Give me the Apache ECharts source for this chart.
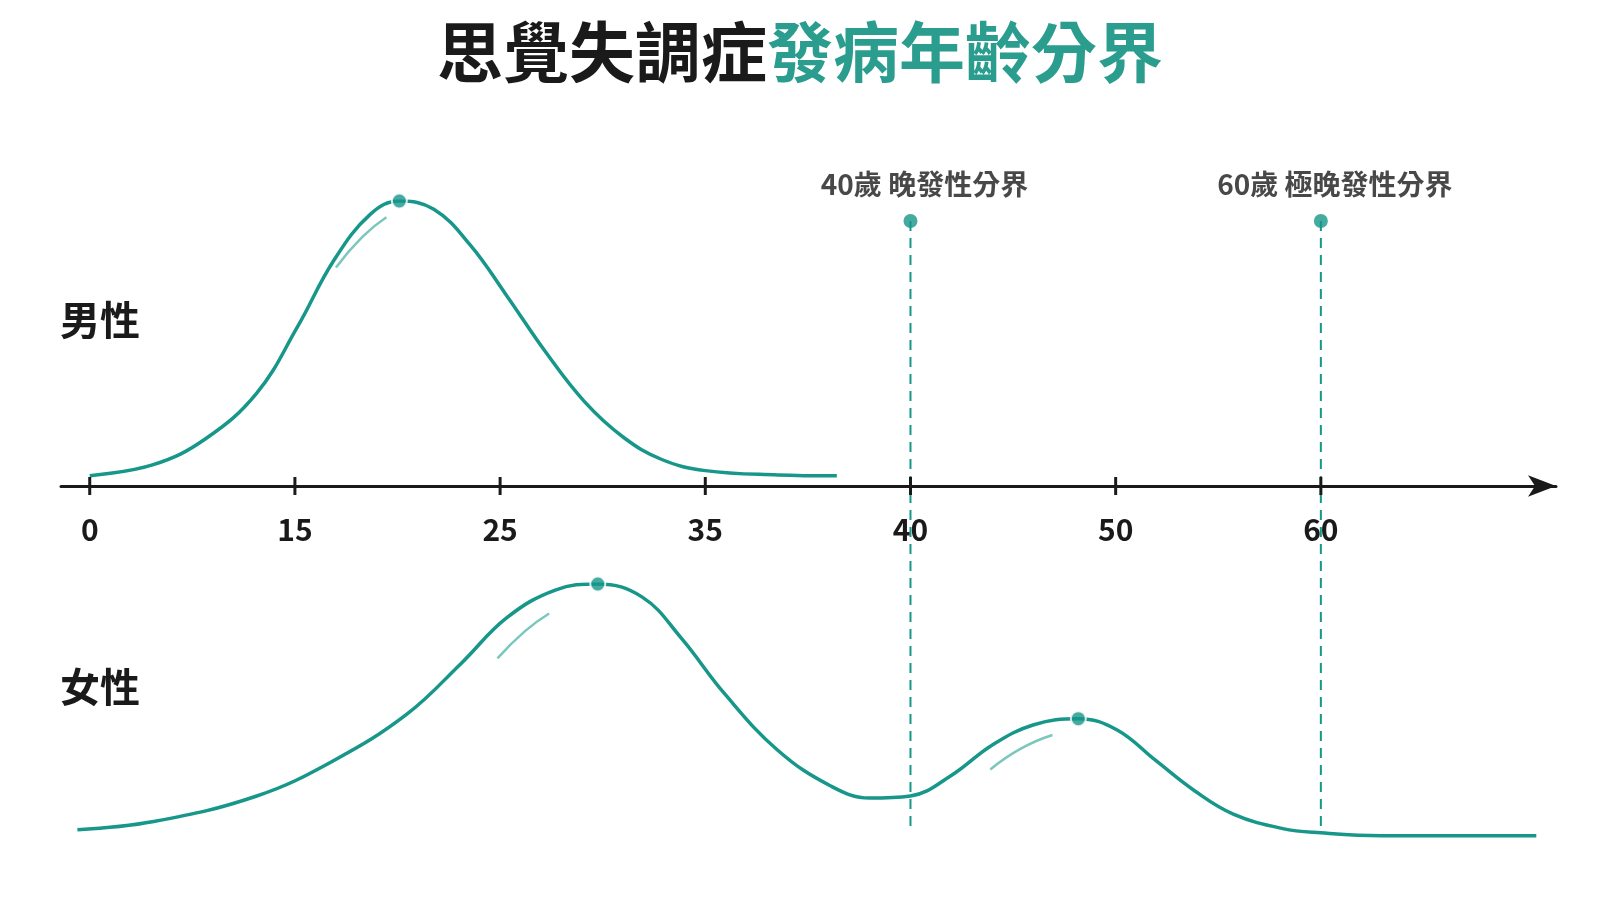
<!DOCTYPE html>
<html><head><meta charset="utf-8">
<script src="https://cdn.jsdelivr.net/npm/echarts@6/dist/echarts.min.js"></script>
<style>html,body{margin:0;background:#fff}#c{width:1600px;height:900px}</style></head>
<body><div id="c"></div>
<script>
// x values are tick-slot positions (slot i = tickLabels[i])
const tickLabels = ['0','15','25','35','40','50','60','70歲'];
const maleX = [0,0.31,0.563,0.814,1.013,1.19,1.367,1.509,1.677,1.854,2.033,2.222,2.41,2.599,2.788,3,3.353,3.641];
const maleY = [0.036,0.075,0.165,0.326,0.559,0.792,0.953,1,0.971,0.846,0.667,0.47,0.297,0.172,0.093,0.054,0.039,0.036];
const femaleX = [-0.06,0.312,0.814,1.19,1.544,1.81,2.033,2.269,2.476,2.693,2.882,3.096,3.353,3.609,3.801,4,4.197,4.399,4.601,4.818,5.005,5.195,5.386,5.576,5.814,6,6.296,6.636,7.05];
const femaleY = [0.066,0.097,0.194,0.329,0.504,0.698,0.872,0.977,1,0.95,0.795,0.581,0.368,0.233,0.186,0.194,0.271,0.388,0.465,0.488,0.446,0.329,0.213,0.124,0.07,0.054,0.043,0.043,0.043];
const malePeak = [[1.509,1]];
const femalePeaks = [[2.476,1],[4.818,0.488]];
const maleGlint = [[1.2,0.767],[1.33,0.875],[1.446,0.943]];
const femaleGlints = [[[1.987,0.717],[2.12,0.82],[2.239,0.888]],[[4.389,0.295],[4.54,0.375],[4.692,0.426]]];
const boundaries = [4,6];
const boundaryLabels = ['40歲 晚發性分界','60歲 極晚發性分界'];

const teal = '#17968a', light = '#7cc7bd', dark = '#1a1a1a';
const F = '"Noto Sans CJK TC","Noto Sans",sans-serif';
const zip = (a,b)=>a.map((v,i)=>[v,b[i]]);
const xr = {min:-0.14,max:7.146};
const chart = echarts.init(document.getElementById('c'));
const xHidden = i=>({type:'value',gridIndex:i,...xr,show:false});
const yHidden = i=>({type:'value',gridIndex:i,min:0,max:1,show:false});
chart.setOption({
  animation:false,
  title:{text:'{a|思覺失調症}{b|發病年齡分界}',left:'center',top:14,
    textStyle:{rich:{a:{fontSize:66,fontWeight:'bold',color:dark,fontFamily:F},b:{fontSize:66,fontWeight:'bold',color:'#2a9d8f',fontFamily:F}}}},
  graphic:[
    {type:'text',left:60,top:300,style:{text:'男性',font:'bold 40px '+F,fill:dark}},
    {type:'text',left:60,top:667,style:{text:'女性',font:'bold 40px '+F,fill:dark}}
  ],
  grid:[
    {left:61,right:44,top:201,height:285},
    {left:61,right:44,top:584,height:263},
    {left:61,right:44,top:221,height:610}
  ],
  xAxis:[
    {type:'value',gridIndex:0,...xr,splitLine:{show:false},axisTick:{show:false},axisLabel:{show:false},
      axisLine:{show:true,onZero:false,symbol:['none','arrow'],symbolSize:[16,28],lineStyle:{color:dark,width:3}}},
    xHidden(1),xHidden(2)
  ],
  yAxis:[yHidden(0),yHidden(1),yHidden(2)],
  series:[
    {type:'line',xAxisIndex:0,yAxisIndex:0,data:zip(maleX,maleY),smooth:0.4,showSymbol:false,lineStyle:{color:teal,width:3.5}},
    {type:'line',xAxisIndex:0,yAxisIndex:0,data:maleGlint,smooth:true,showSymbol:false,lineStyle:{color:light,width:2.5}},
    {type:'scatter',xAxisIndex:0,yAxisIndex:0,data:malePeak,symbolSize:15,itemStyle:{color:teal,borderColor:'#fff',borderWidth:2},z:5},
    {type:'line',xAxisIndex:1,yAxisIndex:1,data:zip(femaleX,femaleY),smooth:0.4,showSymbol:false,lineStyle:{color:teal,width:3.5}},
    ...femaleGlints.map(g=>({type:'line',xAxisIndex:1,yAxisIndex:1,data:g,smooth:true,showSymbol:false,lineStyle:{color:light,width:2.5}})),
    {type:'scatter',xAxisIndex:1,yAxisIndex:1,data:femalePeaks,symbolSize:15,itemStyle:{color:teal,borderColor:'#fff',borderWidth:2},z:5},
    ...boundaries.map(b=>({type:'line',xAxisIndex:2,yAxisIndex:2,data:[[b,1],[b,0]],showSymbol:false,lineStyle:{color:teal,width:2,type:[10,7]}})),
    {type:'scatter',xAxisIndex:2,yAxisIndex:2,data:boundaries.map((b,i)=>({value:[b,1],name:boundaryLabels[i]})),symbolSize:14,itemStyle:{color:teal},
      label:{show:true,position:'top',distance:16,offset:[14,0],formatter:p=>p.name,fontSize:28,fontWeight:'bold',color:dark,fontFamily:F},z:5},
    {type:'scatter',xAxisIndex:0,yAxisIndex:0,data:tickLabels.map((t,i)=>({value:[i,0],name:t,itemStyle:{opacity:i===7?0:1}})),
      symbol:'rect',symbolSize:[3,18],itemStyle:{color:dark},
      label:{show:true,position:'bottom',distance:20,formatter:p=>p.name,fontSize:30,fontWeight:'bold',color:dark,fontFamily:F},z:4}
  ]
});
</script></body></html>
